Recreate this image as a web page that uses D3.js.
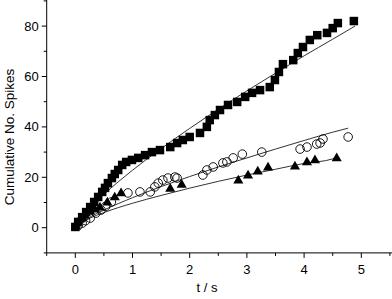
<!DOCTYPE html>
<html>
<head>
<meta http-equiv="Content-Type" content="text/html;charset=utf-8">
<title>Cumulative spikes</title>
<script src="https://d3js.org/d3.v7.min.js"></script>
<style>
  html, body { margin: 0; padding: 0; background: #fff; }
  svg { display: block; font-family: "Liberation Sans", Arial, sans-serif; }
  .fit { fill: none; stroke: #333; stroke-width: 1px; }
</style>
</head>
<body>
<script>
// squares series
let sqT = [0, 0.05, 0.12, 0.19, 0.26, 0.33, 0.40, 0.47, 0.52, 0.57, 0.64, 0.69, 0.75, 0.82, 0.89, 0.99,
  1.10, 1.22, 1.34, 1.48, 1.66, 1.78, 1.88, 2.0, 2.18, 2.30, 2.35, 2.44, 2.53, 2.67, 2.83, 2.97,
  3.09, 3.23, 3.40, 3.49, 3.56, 3.63, 3.81, 3.89, 3.98, 4.10, 4.23, 4.40, 4.50, 4.59, 4.87];
let sqN = [0.3, 2.3, 4.2, 6.2, 8.2, 10.2, 12.2, 14.2, 15.8, 17.7, 19.7, 21.3, 22.9, 24.9, 26.1, 26.9,
  27.7, 28.8, 30.0, 30.8, 32.0, 33.6, 34.8, 36.0, 37.6, 40.0, 42.7, 44.7, 46.7, 48.7, 49.9, 51.9,
  53.5, 54.6, 55.8, 58.6, 61.8, 64.9, 66.5, 69.3, 71.7, 74.5, 76.4, 77.3, 79.2, 81.2, 82.0];

// circles series
let ciT = [0.05, 0.12, 0.18, 0.26, 0.36, 0.45, 0.53, 0.63, 0.92, 1.13, 1.31, 1.39, 1.45, 1.53, 1.62, 1.74,
  1.78, 2.23, 2.30, 2.41, 2.58, 2.65, 2.76, 2.92, 3.26, 3.93, 4.05, 4.22, 4.28, 4.33, 4.77];
let ciN = [0.8, 1.8, 2.8, 3.8, 5.8, 7.0, 8.5, 10.2, 13.8, 14.2, 14.2, 16.2, 17.7, 18.9, 19.7, 20.1,
  19.7, 20.9, 22.9, 24.1, 25.7, 26.1, 27.7, 29.2, 30.0, 31.2, 32.0, 33.2, 33.6, 35.2, 36.0];

// triangles series
let trT = [0.01, 0.08, 0.17, 0.26, 0.34, 0.43, 0.56, 0.69, 0.80, 1.66, 1.86, 2.85, 3.02, 3.19, 3.37,
  3.84, 4.05, 4.19, 4.57];
let trN = [0.3, 3.0, 4.6, 6.2, 7.0, 7.8, 9.8, 11.8, 13.4, 15.2, 16.8, 18.5, 20.5, 22.1, 23.7,
  24.1, 25.7, 26.5, 27.3];

// fitted curves
let fitT = [0, 0.25, 0.5, 1, 1.5, 2, 2.5, 3, 3.5, 4, 4.5];
let sqFitN = [0, 7.6, 13.2, 22.8, 31.4, 39.4, 47.0, 54.3, 61.3, 68.2, 74.8];
let sqFitEnd = [4.89, 80];
let ciFitN = [0, 4.1, 7.0, 11.9, 16.3, 20.3, 24.1, 27.7, 31.2, 34.6, 37.9];
let ciFitEnd = [4.77, 39.5];
let trFitN = [0, 3.7, 6.0, 9.7, 12.8, 15.7, 18.4, 20.9, 23.2, 25.5, 27.3];
let trFitEnd = [4.57, 28.0];

let xTicks = [0, 1, 2, 3, 4, 5];
let yTicks = [0, 20, 40, 60, 80];

let W = 392, H = 299;
let svg = d3.select("body").append("svg").attr("width", W).attr("height", H);

let x = d3.scaleLinear().domain([-0.5, 5.5]).range([46.7, 389.9]);
let y = d3.scaleLinear().domain([-10, 90]).range([252.9, 0.9]);

function pairs(ts, ns) { return ts.map(function(t, i) { return [t, ns[i]]; }); }

let line = d3.line()
  .x(function(d) { return x(d[0]); })
  .y(function(d) { return y(d[1]); })
  .curve(d3.curveMonotoneX);

// fit lines
[[sqFitN, sqFitEnd], [ciFitN, ciFitEnd], [trFitN, trFitEnd]].forEach(function(f) {
  let pts = pairs(fitT, f[0]).filter(function(p) { return p[0] < f[1][0]; });
  pts.push(f[1]);
  svg.append("path").attr("class", "fit").attr("d", line(pts));
});

// markers
svg.append("g").selectAll("rect")
  .data(pairs(sqT, sqN)).enter().append("rect")
  .attr("x", function(d) { return x(d[0]) - 4.25; })
  .attr("y", function(d) { return y(d[1]) - 4.25; })
  .attr("width", 8.5).attr("height", 8.5)
  .attr("fill", "#000");

svg.append("g").selectAll("circle")
  .data(pairs(ciT, ciN)).enter().append("circle")
  .attr("cx", function(d) { return x(d[0]); })
  .attr("cy", function(d) { return y(d[1]); })
  .attr("r", 4.3)
  .attr("fill", "none")
  .attr("stroke", "#000").attr("stroke-width", 0.9);

let tri = d3.symbol().type(d3.symbolTriangle).size(44);
svg.append("g").selectAll("path")
  .data(pairs(trT, trN)).enter().append("path")
  .attr("d", tri)
  .attr("transform", function(d) { return "translate(" + x(d[0]) + "," + (y(d[1]) - 0.5) + ")"; })
  .attr("fill", "#000");

// axes
let xAxis = svg.append("g").attr("transform", "translate(0," + y(-10) + ")");
xAxis.append("line").attr("x1", x(-0.5)).attr("x2", W).attr("stroke", "#000");
xAxis.selectAll(".minor").data(d3.range(-0.5, 5.6, 1)).enter().append("line")
  .attr("x1", function(d) { return x(d); }).attr("x2", function(d) { return x(d); })
  .attr("y1", 0).attr("y2", 3).attr("stroke", "#000");
xAxis.selectAll(".major").data(xTicks).enter().append("line")
  .attr("x1", function(d) { return x(d); }).attr("x2", function(d) { return x(d); })
  .attr("y1", 0).attr("y2", 5).attr("stroke", "#000");
xAxis.selectAll("text").data(xTicks).enter().append("text")
  .attr("x", function(d) { return x(d); }).attr("y", 21)
  .attr("text-anchor", "middle").attr("font-size", 13).text(function(d) { return d; });

let yAxis = svg.append("g").attr("transform", "translate(" + x(-0.5) + ",0)");
yAxis.append("line").attr("y1", y(-10)).attr("y2", 0).attr("stroke", "#000");
yAxis.selectAll(".minor").data([-10, 10, 30, 50, 70, 90]).enter().append("line")
  .attr("y1", function(d) { return y(d); }).attr("y2", function(d) { return y(d); })
  .attr("x1", 0).attr("x2", -3).attr("stroke", "#000");
yAxis.selectAll(".major").data(yTicks).enter().append("line")
  .attr("y1", function(d) { return y(d); }).attr("y2", function(d) { return y(d); })
  .attr("x1", 0).attr("x2", -5).attr("stroke", "#000");
yAxis.selectAll("text").data(yTicks).enter().append("text")
  .attr("x", -8).attr("y", function(d) { return y(d) + 4.5; })
  .attr("text-anchor", "end").attr("font-size", 13).text(function(d) { return d; });

svg.append("text")
  .attr("transform", "translate(14," + 137 + ") rotate(-90)")
  .attr("text-anchor", "middle").attr("font-size", 13.5)
  .text("Cumulative No. Spikes");

svg.append("text")
  .attr("x", 207).attr("y", 292)
  .attr("text-anchor", "middle").attr("font-size", 13)
  .text("t / s");
</script>
</body>
</html>
